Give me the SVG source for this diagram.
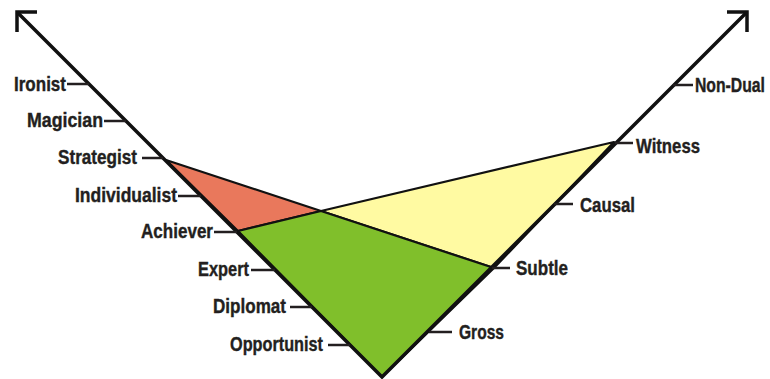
<svg xmlns="http://www.w3.org/2000/svg" width="770" height="379" viewBox="0 0 770 379">
<style>
.lbl{font-family:"Liberation Sans","Arial",sans-serif;font-weight:bold;font-size:20.5px;fill:#231f20;stroke:#231f20;stroke-width:0.4}
.axis{stroke:#111;stroke-width:3.5;fill:none}
.tick{stroke:#231f20;stroke-width:2.5}
.edge{stroke:#111;stroke-width:2.2;stroke-linejoin:round}
</style>
<rect width="770" height="379" fill="#fff"/>
<g id="regions">
<polygon id="red" class="edge" fill="#E9785C" points="166,160 321,211 238,231"/>
<polygon id="yellow" class="edge" fill="#FFFAA2" points="321,211 614,142 494,268"/>
<polygon id="green" class="edge" fill="#80BF2B" points="238,231 321,211 494,268 382,377"/>
</g>
<g id="connectors">
<polyline class="axis" points="17,12 382,377 747,12"/>
<polyline class="axis" points="37,12 17,12 17,32"/>
<polyline class="axis" points="727,12 747,12 747,32"/>
</g>
<g id="left-labels">
<g id="ironist"><line class="tick" x1="67" y1="84" x2="89" y2="84"/><text class="lbl" x="14" y="91" textLength="52" lengthAdjust="spacingAndGlyphs">Ironist</text></g>
<g id="magician"><line class="tick" x1="104" y1="121" x2="126" y2="121"/><text class="lbl" x="27" y="127" textLength="76" lengthAdjust="spacingAndGlyphs">Magician</text></g>
<g id="strategist"><line class="tick" x1="142" y1="158" x2="163" y2="158"/><text class="lbl" x="58" y="164" textLength="79" lengthAdjust="spacingAndGlyphs">Strategist</text></g>
<g id="individualist"><line class="tick" x1="178" y1="196" x2="201" y2="196"/><text class="lbl" x="75" y="202" textLength="102" lengthAdjust="spacingAndGlyphs">Individualist</text></g>
<g id="achiever"><line class="tick" x1="214" y1="232" x2="237" y2="232"/><text class="lbl" x="141" y="238" textLength="72" lengthAdjust="spacingAndGlyphs">Achiever</text></g>
<g id="expert"><line class="tick" x1="251" y1="270" x2="275" y2="270"/><text class="lbl" x="198" y="276" textLength="51" lengthAdjust="spacingAndGlyphs">Expert</text></g>
<g id="diplomat"><line class="tick" x1="290" y1="307" x2="312" y2="307"/><text class="lbl" x="213" y="313" textLength="73" lengthAdjust="spacingAndGlyphs">Diplomat</text></g>
<g id="opportunist"><line class="tick" x1="328" y1="345" x2="350" y2="345"/><text class="lbl" x="230" y="351" textLength="93" lengthAdjust="spacingAndGlyphs">Opportunist</text></g>
</g>
<g id="right-labels">
<g id="nondual"><line class="tick" x1="673" y1="85" x2="693" y2="85"/><text class="lbl" x="765" y="92" text-anchor="end" textLength="70" lengthAdjust="spacingAndGlyphs">Non-Dual</text></g>
<g id="witness"><line class="tick" x1="615" y1="143" x2="633" y2="143"/><text class="lbl" x="636" y="153" textLength="64" lengthAdjust="spacingAndGlyphs">Witness</text></g>
<g id="causal"><line class="tick" x1="554" y1="204" x2="573" y2="204"/><text class="lbl" x="580" y="212" textLength="55" lengthAdjust="spacingAndGlyphs">Causal</text></g>
<g id="subtle"><line class="tick" x1="492" y1="268" x2="510" y2="268"/><text class="lbl" x="516" y="275" textLength="52" lengthAdjust="spacingAndGlyphs">Subtle</text></g>
<g id="gross"><line class="tick" x1="429" y1="332" x2="452" y2="332"/><text class="lbl" x="459" y="339" textLength="45" lengthAdjust="spacingAndGlyphs">Gross</text></g>
</g>
</svg>
